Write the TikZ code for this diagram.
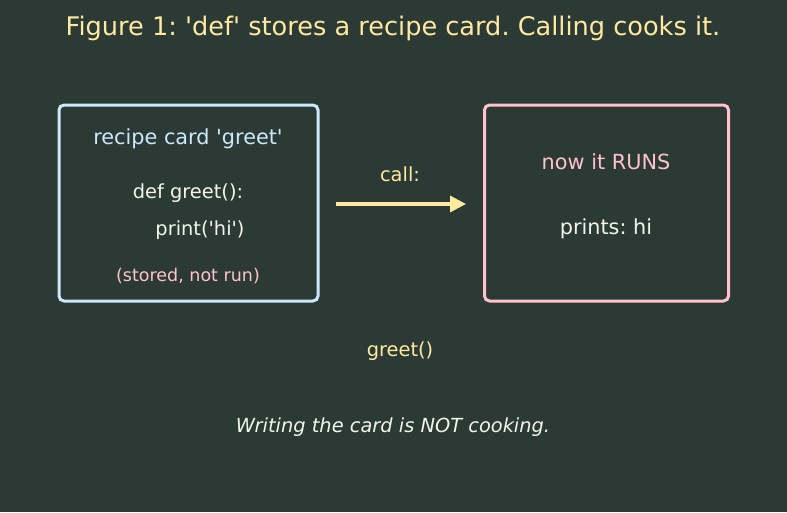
\documentclass[tikz,border=0pt]{standalone}
\usepackage{fontspec}
\setmainfont{DejaVu Sans}[Ligatures=TeXOff]
\usetikzlibrary{positioning,arrows.meta}
\definecolor{bgdark}{HTML}{2B3A34}
\definecolor{titleyellow}{HTML}{FFE9A0}
\definecolor{cardblue}{HTML}{CDE7FB}
\definecolor{runpink}{HTML}{FFC2CE}
\definecolor{codewhite}{HTML}{F4F4EE}
\tikzset{
  cardbox/.style={rectangle,rounded corners=5pt,line width=3pt,fill=bgdark,
    minimum width=259pt,minimum height=196pt,inner sep=0pt},
  lbl/.style={inner sep=0pt,yshift=-2pt,font=\fontsize{19.4}{23}\selectfont},
  fl/.style={-{Triangle[length=16pt,width=16pt]},draw=titleyellow,line width=3.5pt},
}
\begin{document}
\frenchspacing
\begin{tikzpicture}[x=1pt,y=-1pt]
  % --- fondo ---
  \fill[bgdark] (0,0) rectangle (787,512);
  \useasboundingbox (0,0) rectangle (787,512);
  % --- título ---
  \node[lbl,text=titleyellow,font=\fontsize{25.6}{30}\selectfont] (title) at (393,26) {Figure 1: 'def' stores a recipe card. Calling cooks it.};
  % --- tarjeta: definición ---
  \node[cardbox,draw=cardblue] (card) at (188.5,203) {};
  \node[lbl,text=cardblue,font=\fontsize{20.8}{25}\selectfont] (cardname) at (188,137) {recipe card 'greet'};
  \node[lbl,text=codewhite] (defline) at (188,191) {def greet():};
  \node[lbl,text=codewhite] (printline) at (200,228) {print('hi')};
  \node[lbl,text=runpink,font=\fontsize{17.5}{21}\selectfont] (stored) at (188,274) {(stored, not run)};
  % --- ejecución ---
  \node[cardbox,draw=runpink,minimum width=244pt] (run) at (606.5,203) {};
  \node[lbl,text=runpink,font=\fontsize{20.8}{25}\selectfont] (runs) at (606,160) {now it RUNS};
  \node[lbl,text=codewhite,font=\fontsize{20.8}{25}\selectfont] (prints) at (606,227) {prints: hi};
  % --- llamada ---
  \coordinate (callstart) at (336,204);
  \coordinate (callend) at (466,204);
  \draw[fl] (callstart) -- (callend);
  \node[lbl,text=titleyellow] (calllbl) at (400,172) {call:};
  \node[lbl,text=titleyellow] (callname) at (400,349) {greet()};
  % --- pie ---
  \node[lbl,text=codewhite,font=\fontsize{19.4}{23}\selectfont\itshape] (moral) at (393,425) {Writing the card is NOT cooking.};
\end{tikzpicture}
\end{document}
